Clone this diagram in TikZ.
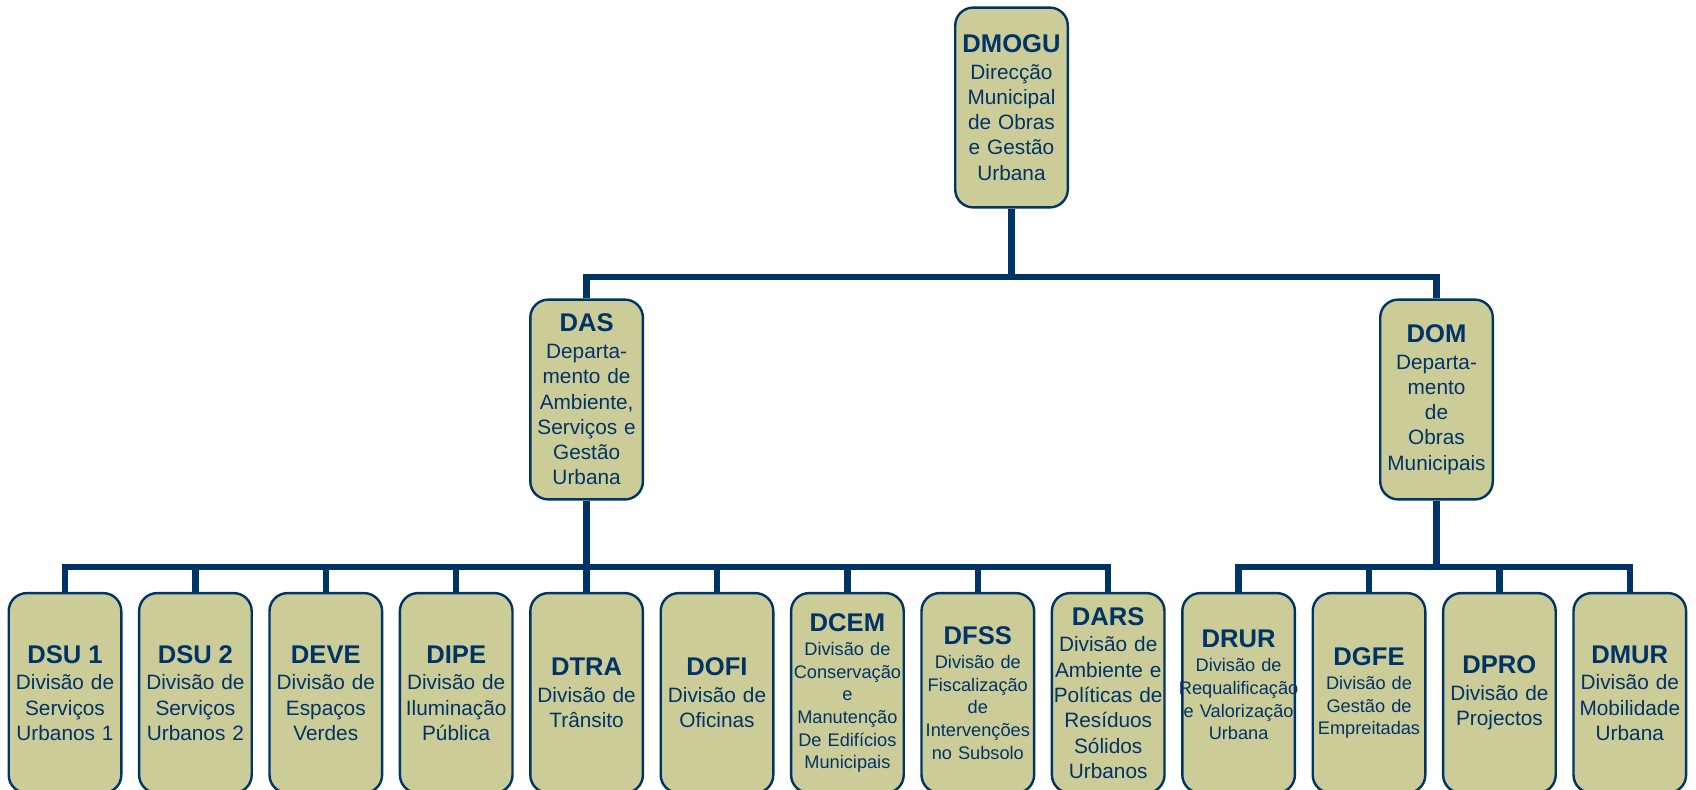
\documentclass[tikz,border=0pt]{standalone}
\usepackage{fontspec}
\setmainfont{Liberation Sans}
\definecolor{navy}{HTML}{003366}
\definecolor{khaki}{HTML}{CCCC99}
\newcommand{\sigla}[1]{{\fontsize{12.8}{14}\selectfont\bfseries #1}\\[0.7pt]}
\tikzset{
  unit/.style={draw=navy, fill=khaki, line width=1.2pt, rounded corners=9pt, text=navy,
    minimum width=56.3pt, minimum height=99.9pt, text width=55pt, inner sep=0pt,
    align=center, font=\fontsize{10.4}{12.65}\selectfont},
  unitsmall/.style={unit, font=\fontsize{9.1}{11.35}\selectfont},
  link/.style={draw=navy, line width=3.2pt}
}
\begin{document}
\begin{tikzpicture}[x=0.5pt,y=-0.5pt]
  \clip (0,0) rectangle (1696,789);
  \node[unit] (dmogu) at (1011.5,107.5) {\sigla{DMOGU}Direcção\\Municipal\\de Obras\\e Gestão\\Urbana};
  \node[unit] (das) at (586.6,399.5) {\sigla{DAS}Departa-\\mento de\\Ambiente,\\Serviços e\\Gestão\\Urbana};
  \node[unit] (dom) at (1436.5,399.5) {\sigla{DOM}Departa-\\mento\\de\\Obras\\Municipais};

  \node[unit] (dsu1) at (65,693) {\sigla{DSU 1}Divisão de\\Serviços\\Urbanos 1};
  \node[unit] (dsu2) at (195.4,693) {\sigla{DSU 2}Divisão de\\Serviços\\Urbanos 2};
  \node[unit] (deve) at (325.8,693) {\sigla{DEVE}Divisão de\\Espaços\\Verdes};
  \node[unit] (dipe) at (456.2,693) {\sigla{DIPE}Divisão de\\Iluminação\\Pública};
  \node[unit] (dtra) at (586.6,693) {\sigla{DTRA}Divisão de\\Trânsito};
  \node[unit] (dofi) at (717,693) {\sigla{DOFI}Divisão de\\Oficinas};
  \node[unitsmall] (dcem) at (847.4,693) {\sigla{DCEM}Divisão de\\Conservação\\e\\Manutenção\\De Edifícios\\Municipais};
  \node[unitsmall] (dfss) at (977.8,693) {\sigla{DFSS}Divisão de\\Fiscalização\\de\\Intervenções\\no Subsolo};
  \node[unit] (dars) at (1108.2,693) {\sigla{DARS}Divisão de\\Ambiente e\\Políticas de\\Resíduos\\Sólidos\\Urbanos};
  \node[unitsmall] (drur) at (1238.6,693) {\sigla{DRUR}Divisão de\\\makebox[\linewidth]{Requalificação}\\e Valorização\\Urbana\\[-3.3pt]\mbox{}};
  \node[unitsmall] (dgfe) at (1369,693) {\sigla{DGFE}Divisão de\\Gestão de\\Empreitadas};
  \node[unit] (dpro) at (1499.4,693) {\sigla{DPRO}Divisão de\\Projectos};
  \node[unit] (dmur) at (1629.8,693) {\sigla{DMUR}Divisão de\\Mobilidade\\Urbana};

  \coordinate (topbus) at (0,277);
  \coordinate (lowbus) at (0,567);
  \draw[link] (dmogu.south) -- (dmogu.south |- topbus);
  \draw[link] (das.north) |- (dom.north |- topbus) -- (dom.north);
  \draw[link] (das.south) -- (das.south |- lowbus);
  \draw[link] (dsu1.north) |- (dars.north |- lowbus) -- (dars.north);
  \foreach \n in {dsu2,deve,dipe,dtra,dofi,dcem,dfss}
    \draw[link] (\n.north) -- (\n.north |- lowbus);
  \draw[link] (dom.south) -- (dom.south |- lowbus);
  \draw[link] (drur.north) |- (dmur.north |- lowbus) -- (dmur.north);
  \foreach \n in {dgfe,dpro}
    \draw[link] (\n.north) -- (\n.north |- lowbus);
\end{tikzpicture}
\end{document}
